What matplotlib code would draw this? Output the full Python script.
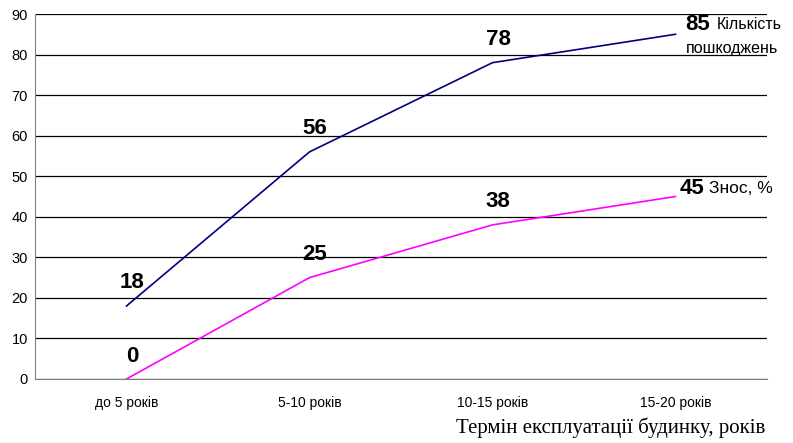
import matplotlib.pyplot as plt

plt.rcParams["font.family"] = ["Liberation Sans", "DejaVu Sans"]

periods = ["до 5 років", "5-10 років", "10-15 років", "15-20 років"]
damages = [18, 56, 78, 85]
wear = [0, 25, 38, 45]
damages_name = ("Кількість", "пошкоджень")
wear_name = "Знос, %"
y_ticks = [0, 10, 20, 30, 40, 50, 60, 70, 80, 90]

W, H = 793, 443
fig = plt.figure(figsize=(W / 100, H / 100), dpi=100)
ax = fig.add_axes([35 / W, (H - 379) / H, (767 - 35) / W, (379 - 14) / H])

x = list(range(len(periods)))
ax.plot(x, damages, color="#000080", lw=1.2, zorder=3)
ax.plot(x, wear, color="#FF00FF", lw=1.2, zorder=3)

ax.set_xlim(-0.5, len(periods) - 0.5)
ax.set_ylim(0, 90)
ax.set_yticks(y_ticks)
ax.set_xticks(x)
ax.set_xticklabels(periods, fontsize=10)
ax.tick_params(axis="x", length=0, pad=12)
ax.tick_params(axis="y", length=0, labelsize=10.5, pad=5)
ax.grid(axis="y", color="black", lw=0.9)
ax.set_axisbelow(True)

for side in ("top", "right"):
    ax.spines[side].set_visible(False)
ax.spines["left"].set_color("#808080")
ax.spines["bottom"].set_color("#808080")

# value labels above the inner points
for series in (damages, wear):
    for i, v in enumerate(series[:-1]):
        ax.annotate(str(v), (i, v), xytext=(4, 9), textcoords="offset points",
                    ha="center", va="bottom", fontsize=16, fontweight="bold")

# last point: value plus series name to the right
ax.annotate(str(damages[-1]), (x[-1], damages[-1]), xytext=(7.2, 7),
            textcoords="offset points", ha="left", va="center",
            fontsize=16, fontweight="bold", annotation_clip=False)
ax.annotate(damages_name[0], (x[-1], damages[-1]), xytext=(29.5, 7),
            textcoords="offset points", ha="left", va="center",
            fontsize=11.5, annotation_clip=False)
ax.annotate(damages_name[1], (x[-1], damages[-1]), xytext=(7.5, -10),
            textcoords="offset points", ha="left", va="center",
            fontsize=11.5, annotation_clip=False)
ax.annotate(str(wear[-1]), (x[-1], wear[-1]), xytext=(3, 6),
            textcoords="offset points", ha="left", va="center",
            fontsize=16, fontweight="bold", annotation_clip=False)
ax.annotate(wear_name, (x[-1], wear[-1]), xytext=(24, 6),
            textcoords="offset points", ha="left", va="center",
            fontsize=12.5, annotation_clip=False)

fig.text(765 / W, 1 - 428 / H, "Термін експлуатації будинку, років",
         ha="right", va="center", fontsize=15, family="Liberation Serif")

fig.savefig("out.png", dpi=100)
